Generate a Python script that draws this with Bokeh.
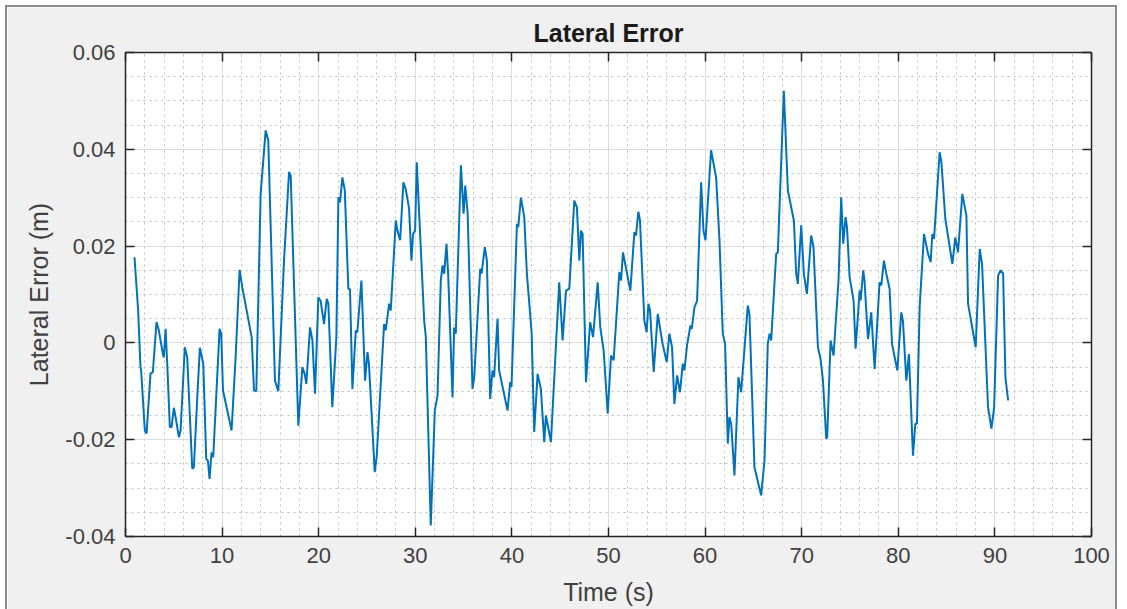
from bokeh.plotting import figure
from bokeh.models import LinearAxis, FixedTicker, CustomJSTickFormatter, Range1d, Grid
from bokeh.embed import file_html
from bokeh.resources import INLINE

# ---- data ----
time_s = [0.93, 1.31, 1.55, 1.62, 2.0, 2.18, 2.59, 2.83, 3.21, 3.45, 3.87, 3.97, 4.15, 4.32, 4.59, 4.77,
          5.01, 5.18, 5.53, 5.70, 6.14, 6.39, 6.91, 7.08, 7.43, 7.70, 8.05, 8.36, 8.53, 8.70, 8.91, 9.08,
          9.74, 9.91, 10.09, 10.98, 11.4, 11.81, 12.09, 13.06, 13.3, 13.54, 13.99, 14.51, 14.78, 15.47,
          15.82, 16.41, 16.93, 17.1, 17.89, 18.31, 18.55, 18.72, 19.1, 19.35, 19.62, 19.96, 20.2, 20.55,
          20.83, 21.0, 21.41, 21.83, 22.04, 22.21, 22.45, 22.7, 23.07, 23.24, 23.49, 23.84, 24.0, 24.42,
          24.8, 25.05, 25.2, 25.8, 26.0, 26.77, 26.94, 27.29, 27.46, 27.98, 28.15, 28.43, 28.77, 29.01,
          29.36, 29.6, 29.77, 29.98, 30.15, 30.4, 30.92, 31.09, 31.6, 32.02, 32.3, 32.64, 32.82, 32.99,
          33.23, 33.4, 33.85, 34.02, 34.19, 34.72, 35.0, 35.17, 35.42, 35.92, 36.1, 36.72, 36.86, 37.2,
          37.41, 37.75, 37.99, 38.16, 38.51, 38.68, 39.55, 39.82, 39.96, 40.52, 40.66, 40.93, 41.28, 41.55,
          42.04, 42.31, 42.66, 43.0, 43.35, 43.52, 44.04, 44.9, 45.25, 45.6, 45.94, 46.46, 46.73, 46.98,
          47.15, 47.32, 47.67, 48.1, 48.4, 48.88, 49.15, 49.5, 49.92, 50.26,
          50.53, 51.12, 51.3, 51.5, 52.26, 52.68, 52.85, 53.09, 53.26, 53.71, 53.95, 54.13, 54.3, 54.68,
          55.1, 55.6, 56.03, 56.3, 56.58, 56.82, 57.1, 57.4, 57.69, 57.86, 58.13, 58.48, 58.62, 58.9,
          59.17, 59.59, 59.83, 60.04, 60.62, 61.14, 61.49, 61.83, 62.07, 62.35, 62.52, 62.7, 63.04, 63.45,
          63.73, 64.42, 64.59, 65.11, 65.8, 66.15, 66.49, 66.67, 66.84, 67.36, 67.53, 68.15, 68.57, 69.19,
          69.43, 69.6, 69.95, 70.22, 70.54, 70.98, 71.22, 71.68, 71.95, 72.2, 72.54, 72.64, 72.99, 73.3,
          73.81, 74.09, 74.3, 74.54,
          74.69, 74.96, 75.37, 75.58, 76.0, 76.1, 76.37, 76.5, 76.86, 77.2, 77.55, 78.06, 78.24, 78.51,
          78.76, 79.1, 79.35, 79.9, 80.31, 80.48, 80.83, 81.1, 81.52, 81.76, 81.93, 82.21, 82.66, 83.08,
          83.35, 83.52, 83.7, 84.28, 84.46, 84.87, 85.6, 85.9, 86.18, 86.63, 87.05, 87.22, 88.01, 88.43,
          88.67, 89.29, 89.64, 89.92, 90.33, 90.6, 90.85, 91.09, 91.37]

lateral_error_m = [0.0177, 0.0067, -0.005, -0.0057, -0.0181, -0.0187, -0.0063, -0.0061, 0.0043, 0.0026,
                   -0.0023, -0.003, 0.0029, -0.0043, -0.0174, -0.0174, -0.0134, -0.0153, -0.0195, -0.0181,
                   -0.0009, -0.003, -0.026, -0.0257, -0.0112, -0.001, -0.0043, -0.024, -0.0243, -0.0281,
                   -0.0226, -0.0236, 0.0029, 0.0019, -0.0098, -0.0181, -0.003, 0.0151, 0.0115, 0.0012,
                   -0.0098, -0.01, 0.0308, 0.0439, 0.0418, -0.0078, -0.01, 0.017, 0.0353, 0.0346, -0.0171,
                   -0.005, -0.0064, -0.0085, 0.0032, 0.0005, -0.0105, 0.0094, 0.0087, 0.0039, 0.0091,
                   0.0081, -0.0133, 0.0012, 0.0301, 0.0291, 0.0342, 0.0315, 0.0112, 0.0111, -0.0095,
                   0.0026, 0.0022, 0.0129,
                   -0.0078, -0.0019, -0.0043, -0.0267, -0.0236, 0.0039, 0.0026, 0.0081, 0.0067, 0.0253,
                   0.0232, 0.0212, 0.0332, 0.0318, 0.0277, 0.017, 0.0225, 0.0232, 0.0373, 0.0267, 0.0046,
                   0.0012, -0.0377, -0.014, -0.0109, 0.0129, 0.016, 0.0143, 0.0205, 0.0143, -0.0112, 0.0032,
                   0.0019, 0.0367, 0.0267, 0.0325, 0.0267, -0.0095, -0.0071, 0.0153, 0.0143, 0.0198, 0.017,
                   -0.0116, -0.0057, -0.0071, 0.005, -0.0057, -0.014, -0.0081, -0.0091, 0.0246, 0.0239, 0.03,
                   0.026, 0.0143, 0.0022, -0.0184, -0.0064, -0.0095, -0.0205, -0.015, -0.0205, 0.0125,
                   0.0005, 0.0108, 0.0112, 0.0294, 0.028, 0.017, 0.0232, 0.0225, -0.0081, 0.0043, 0.0012,
                   0.0125, 0.0032, -0.0016, -0.0146, -0.0026,
                   -0.0036, 0.0146, 0.0129, 0.0187, 0.0108, 0.0229, 0.0222, 0.0271, 0.0253, 0.0046, 0.0022,
                   0.0081, 0.0067, -0.006, 0.006, -0.0002, -0.004, 0.0019, -0.0009, -0.0126, -0.0067,
                   -0.0102, -0.0043, -0.0057, -0.0005, 0.0036, 0.0029, 0.0074, 0.0087, 0.0332, 0.0232,
                   0.0212, 0.0398, 0.0342, 0.0212, 0.0019, -0.0002, -0.0208, -0.0153, -0.0167, -0.0274,
                   -0.0071, -0.0102, 0.0077, 0.006, -0.0257, -0.0315, -0.0243, -0.0002, 0.0019, 0.0005,
                   0.0184, 0.0187, 0.0521, 0.0315, 0.0253, 0.0143, 0.0122, 0.0243, 0.0143, 0.0101, 0.0222,
                   0.0198, -0.0009, -0.0033, -0.0078, -0.0198, -0.0195, 0.0005, -0.0026, 0.0129, 0.0301,
                   0.0205, 0.026,
                   0.0239, 0.0136, 0.0088, -0.0012, 0.0108, 0.0088, 0.015, 0.0129, 0.0008, 0.0063, -0.0054,
                   0.0125, 0.0119, 0.017, 0.0143, 0.0112, -0.0002, -0.0057, 0.0063, 0.0046, -0.0078,
                   -0.0023, -0.0233, -0.0167, -0.0167, 0.0074, 0.0225, 0.0184, 0.0167, 0.0225, 0.0215,
                   0.0394, 0.0374, 0.0256, 0.0163, 0.0218, 0.0187, 0.0308, 0.0263, 0.0081, -0.0009, 0.0194,
                   0.0163, -0.0133, -0.0177, -0.0133, 0.0139, 0.015, 0.0143, -0.0071, -0.0119]

x_ticks = [0, 10, 20, 30, 40, 50, 60, 70, 80, 90, 100]
x_minor = [float(v) for v in range(0, 101, 2)]
y_ticks = [-0.04, -0.02, 0.0, 0.02, 0.04, 0.06]
y_minor = [round(-0.04 + 0.005 * i, 4) for i in range(21)]

title_text = "Lateral Error"
x_label = "Time (s)"
y_label = "Lateral Error (m)"

FONT = "Liberation Sans"
AXIS_COLOR = "#262626"
LABEL_COLOR = "#404040"

p = figure(width=1112, height=612, output_backend="svg", toolbar_location=None,
           x_range=Range1d(0, 100), y_range=Range1d(-0.04, 0.06),
           x_axis_location=None, y_axis_location=None,
           min_border_left=118, min_border_right=28, min_border_top=45, min_border_bottom=83,
           background_fill_color="white", border_fill_color="#f0f0f0")
p.styles = {"border": "2px solid #8c8c8c", "margin-left": "5px", "margin-top": "5px"}
p.outline_line_color = None

p.title.text = title_text
p.title.align = "center"
p.title.text_font = FONT
p.title.text_font_size = "25px"
p.title.text_font_style = "bold"
p.title.text_color = "#1a1a1a"
p.title.standoff = 12

formatter_y = CustomJSTickFormatter(code="""
    if (Math.abs(tick) < 1e-9) return "0";
    return tick.toFixed(2);
""")


def make_axis(labels, axis_label=None, formatter=None, ticks=None, minor=None):
    ax = LinearAxis()
    ax.ticker = FixedTicker(ticks=ticks, minor_ticks=minor)
    if formatter is not None:
        ax.formatter = formatter
    ax.axis_line_color = AXIS_COLOR
    ax.axis_line_width = 1.5
    ax.major_tick_line_color = AXIS_COLOR
    ax.major_tick_line_width = 1.5
    ax.major_tick_in = 9
    ax.major_tick_out = 0
    ax.minor_tick_in = 0
    ax.minor_tick_out = 0
    ax.major_label_text_font = FONT
    ax.major_label_text_font_size = "22px"
    ax.major_label_text_color = LABEL_COLOR
    if not labels:
        ax.major_label_text_font_size = "0px"
        ax.major_label_text_alpha = 0
    if axis_label:
        ax.axis_label = axis_label
        ax.axis_label_text_font = FONT
        ax.axis_label_text_font_size = "25px"
        ax.axis_label_text_font_style = "normal"
        ax.axis_label_text_color = LABEL_COLOR
    return ax


xb = make_axis(True, x_label, None, x_ticks, x_minor)
xb.major_label_standoff = 11
xb.axis_label_standoff = 12
yl = make_axis(True, y_label, formatter_y, y_ticks, y_minor)
yl.major_label_standoff = 10
yl.axis_label_standoff = 9
xt = make_axis(False, None, None, x_ticks, x_minor)
yr = make_axis(False, None, None, y_ticks, y_minor)
p.add_layout(xb, "below")
p.add_layout(yl, "left")
p.add_layout(xt, "above")
p.add_layout(yr, "right")

p.renderers = [r for r in p.renderers if not isinstance(r, Grid)]
p.center = [r for r in p.center if not isinstance(r, Grid)]
gx = Grid(dimension=0, ticker=xb.ticker)
gy = Grid(dimension=1, ticker=yl.ticker)
for g in (gx, gy):
    g.grid_line_color = "#dcdcdc"
    g.grid_line_width = 1
    g.minor_grid_line_color = "#bdbdbd"
    g.minor_grid_line_dash = "2 4"
    g.minor_grid_line_width = 1
    p.add_layout(g)

p.line(time_s, lateral_error_m, line_color="#0072BD", line_width=2)

open("out.html", "w").write(file_html(p, INLINE))
